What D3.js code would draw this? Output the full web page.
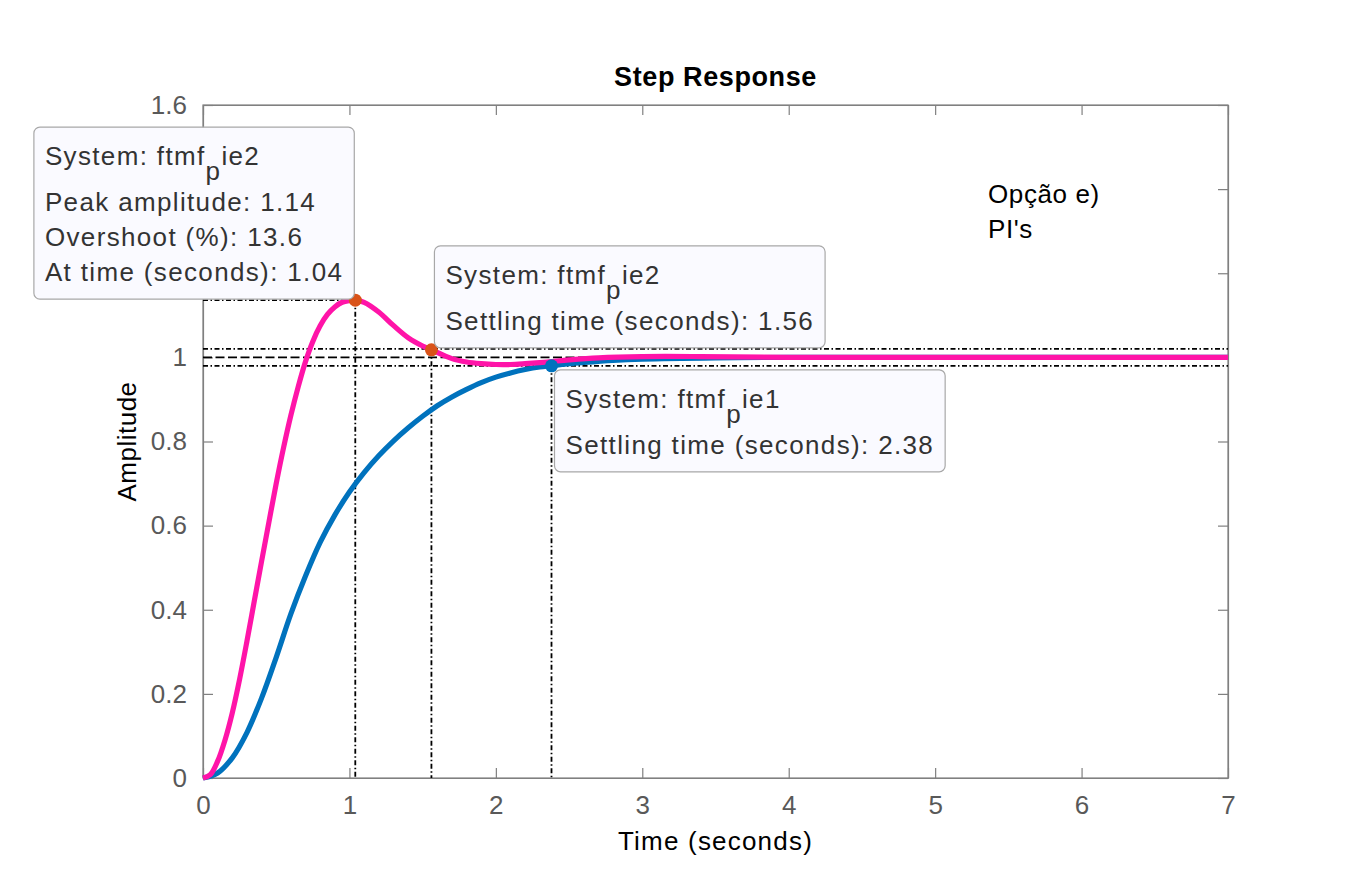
<!DOCTYPE html>
<html><head><meta charset="utf-8">
<script src="https://cdn.jsdelivr.net/npm/d3@7"></script>
<style>
body{margin:0;background:#fff;}
svg{display:block;}
text{font-family:"Liberation Sans",Arial,Helvetica,sans-serif;}
</style></head>
<body>
<svg id="c" width="1358" height="875"></svg>
<script>
// ---- data ----
const timeIe2 = [0,0.05,0.1,0.15,0.2,0.25,0.3,0.35,0.4,0.45,0.5,0.55,0.6,0.65,0.7,0.75,0.8,0.85,0.9,0.95,1.0,1.04,1.1,1.2,1.3,1.4,1.5,1.56,1.7,1.8,1.9,2.0,2.1,2.2,2.35,2.5,2.7,3.0,3.4,4.0,5.0,7.0];
const ampIe2  = [0,0.008,0.04,0.09,0.155,0.235,0.325,0.42,0.515,0.608,0.7,0.785,0.862,0.93,0.99,1.038,1.075,1.102,1.12,1.131,1.135,1.136,1.131,1.108,1.076,1.047,1.027,1.018,0.997,0.989,0.985,0.983,0.983,0.985,0.989,0.994,0.999,1.002,1.002,1.0,1.0,1.0];
const timeIe1 = [0,0.1,0.2,0.3,0.4,0.5,0.6,0.7,0.8,0.9,1.0,1.1,1.2,1.3,1.4,1.5,1.6,1.7,1.8,1.9,2.0,2.1,2.2,2.3,2.38,2.5,2.6,2.8,3.0,3.5,4.0,7.0];
const ampIe1  = [0,0.012,0.048,0.108,0.19,0.287,0.39,0.48,0.56,0.625,0.68,0.726,0.766,0.801,0.832,0.86,0.885,0.906,0.924,0.94,0.953,0.963,0.971,0.977,0.98,0.985,0.988,0.993,0.996,0.999,1.0,1.0];
const xTicks = [0,1,2,3,4,5,6,7];
const yTicks = [0,0.2,0.4,0.6,0.8,1,1.2,1.4,1.6];
const yTickLabels = ['0','0.2','0.4','0.6','0.8','1','','','1.6']; // 1.2 and 1.4 hidden under the data tip
const peakIe2 = {t:1.04, v:1.136, overshoot:13.6};
const settleIe2 = {t:1.56, v:1.018};
const settleIe1 = {t:2.38, v:0.98};
const bandLevels = [1.02, 0.98];
const finalValue = 1;

// ---- layout ----
const svg = d3.select('#c');
const L=203, R=1228, T=105, B=778;
const x = d3.scaleLinear().domain([0,7]).range([L,R]);
const y = d3.scaleLinear().domain([0,1.6]).range([B,T]);
const axisCol = '#808080', tickTxt = '#595959';
const pink = '#FF14A8', blue = '#0072BD', orange = '#D95319';

// box + ticks
const g = svg.append('g');
g.append('g').attr('transform',`translate(0,${B})`).call(d3.axisBottom(x).tickValues(xTicks).tickSizeInner(-10).tickSizeOuter(0).tickPadding(18).tickFormat(d3.format('d')));
g.append('g').attr('transform',`translate(0,${T})`).call(d3.axisTop(x).tickValues(xTicks).tickSizeInner(-10).tickSizeOuter(0).tickFormat(''));
g.append('g').attr('transform',`translate(${L},0)`).call(d3.axisLeft(y).tickValues(yTicks).tickSizeInner(-10).tickSizeOuter(0).tickPadding(16).tickFormat((d,i)=>yTickLabels[i]));
g.append('g').attr('transform',`translate(${R},0)`).call(d3.axisRight(y).tickValues(yTicks).tickSizeInner(-10).tickSizeOuter(0).tickFormat(''));
g.selectAll('.domain').attr('stroke',axisCol).attr('stroke-width',1.2);
g.selectAll('.tick line').attr('stroke',axisCol).attr('stroke-width',1.2);
g.selectAll('.tick text').attr('fill',tickTxt).style('font-size','26px').style('font-family','"Liberation Sans",Arial,sans-serif');
svg.append('rect').attr('x',L).attr('y',T).attr('width',R-L).attr('height',B-T).attr('fill','none').attr('stroke',axisCol).attr('stroke-width',1.2);

// reference lines
const ref = svg.append('g').attr('stroke','#000').attr('stroke-width',1.8).attr('fill','none');
const dashDot = '5,2.5,1.5,2.5';
bandLevels.forEach(v=>ref.append('line').attr('x1',x(0)).attr('x2',x(7)).attr('y1',y(v)).attr('y2',y(v)).attr('stroke-dasharray',dashDot));
ref.append('line').attr('x1',x(0)).attr('x2',x(7)).attr('y1',y(finalValue)).attr('y2',y(finalValue)).attr('stroke-dasharray','9,3.5');
ref.append('line').attr('x1',x(0)).attr('x2',x(peakIe2.t)).attr('y1',y(peakIe2.v)).attr('y2',y(peakIe2.v)).attr('stroke-dasharray',dashDot);
[peakIe2,settleIe2,settleIe1].forEach(p=>ref.append('line').attr('x1',x(p.t)).attr('x2',x(p.t)).attr('y1',y(p.v)).attr('y2',y(0)).attr('stroke-dasharray',dashDot));

// curves
const line = d3.line().x(d=>x(d[0])).y(d=>y(d[1])).curve(d3.curveCatmullRom.alpha(0.5));
svg.append('path').attr('d',line(d3.zip(timeIe1,ampIe1))).attr('fill','none').attr('stroke',blue).attr('stroke-width',5.2);
svg.append('path').attr('d',line(d3.zip(timeIe2,ampIe2))).attr('fill','none').attr('stroke',pink).attr('stroke-width',5.2);

// markers
[[peakIe2,orange],[settleIe2,orange],[settleIe1,blue]].forEach(([p,c])=>svg.append('circle').attr('cx',x(p.t)).attr('cy',y(p.v)).attr('r',6.5).attr('fill',c));

// data tips
function tip(lines, anchorX, anchorY, corner){
  const tg = svg.append('g');
  const rect = tg.append('rect').attr('rx',6).attr('fill','#FAFAFF').attr('stroke','#A8A8A8').attr('stroke-width',1.2);
  const tx = tg.append('g');
  let yy = 38;
  lines.forEach((ln,i)=>{
    const t = tx.append('text').attr('x',11).attr('y',yy).attr('fill','#333').style('font-size','26px').style('letter-spacing','1.35px');
    if(Array.isArray(ln)){
      t.append('tspan').text(ln[0]);
      t.append('tspan').attr('dy',15).text(ln[1]);
      t.append('tspan').attr('dy',-15).text(ln[2]);
      yy += 46;
    } else { t.text(ln); yy += 35; }
  });
  const bb = tx.node().getBBox();
  const w = bb.width + 22, h = yy - 35 + 18;
  rect.attr('width',w).attr('height',h);
  let ox = anchorX, oy = anchorY;
  if(corner==='br'){ox = anchorX - w - 1; oy = anchorY - h - 1;}
  if(corner==='bl'){ox = anchorX + 3; oy = anchorY - h - 2;}
  if(corner==='tl'){ox = anchorX + 3; oy = anchorY + 4;}
  tg.attr('transform',`translate(${ox},${oy})`);
}
tip([["System: ftmf","p","ie2"], `Peak amplitude: ${peakIe2.v.toFixed(2)}`, `Overshoot (%): ${peakIe2.overshoot}`, `At time (seconds): ${peakIe2.t.toFixed(2)}`], x(peakIe2.t), y(peakIe2.v), 'br');
tip([["System: ftmf","p","ie2"], `Settling time (seconds): ${settleIe2.t.toFixed(2)}`], x(settleIe2.t), y(settleIe2.v), 'bl');
tip([["System: ftmf","p","ie1"], `Settling time (seconds): ${settleIe1.t.toFixed(2)}`], x(settleIe1.t), y(settleIe1.v), 'tl');

// texts
svg.append('text').attr('x',(L+R)/2).attr('y',86).attr('text-anchor','middle').style('font-size','27px').style('font-weight','bold').style('letter-spacing','0.6px').attr('fill','#000').text('Step Response');
svg.append('text').attr('x',(L+R)/2).attr('y',850).attr('text-anchor','middle').style('font-size','26px').style('letter-spacing','1.2px').attr('fill','#000').text('Time (seconds)');
svg.append('text').attr('transform',`translate(136,${(T+B)/2}) rotate(-90)`).attr('text-anchor','middle').style('font-size','26px').style('letter-spacing','0.5px').attr('fill','#000').text('Amplitude');
svg.append('text').attr('x',988).attr('y',203).style('font-size','26px').style('letter-spacing','0.6px').attr('fill','#000').text('Opção e)');
svg.append('text').attr('x',988).attr('y',238).style('font-size','26px').style('letter-spacing','0.6px').attr('fill','#000').text("PI's");
</script>
</body></html>
